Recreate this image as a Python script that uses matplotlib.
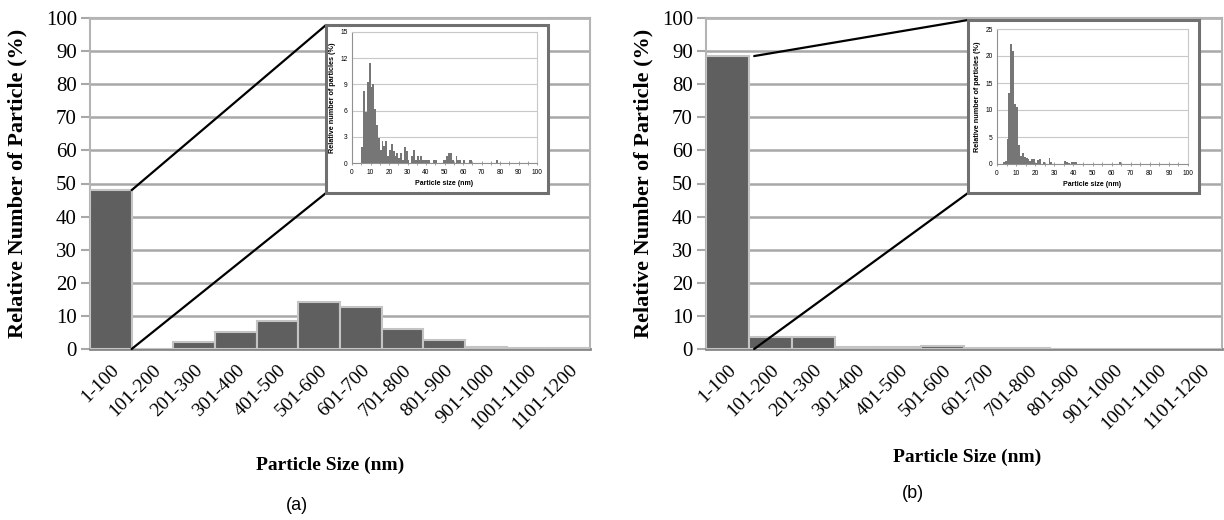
import matplotlib
matplotlib.use("Agg")
import matplotlib.pyplot as plt
from matplotlib.patches import Rectangle, ConnectionPatch
import numpy as np

# main histogram data (percent per size range)
size_ranges = ['1-100', '101-200', '201-300', '301-400', '401-500', '501-600',
               '601-700', '701-800', '801-900', '901-1000', '1001-1100', '1101-1200']
pct_a = [48.0, 0.0, 2.0, 5.2, 8.6, 14.3, 12.7, 6.0, 2.6, 0.5, 0.2, 0.2]
pct_b = [88.5, 3.5, 3.5, 0.7, 0.7, 1.0, 0.4, 0.4, 0.1, 0.1, 0.1, 0.1]

# inset histograms, 1 nm bins (only non-empty bins)
inset_a_nm = [5, 6, 7, 8, 9, 10, 11, 12, 13, 14, 15, 16, 17, 18, 19, 20, 21, 22, 23,
              24, 25, 26, 27, 28, 29, 30, 32, 33, 34, 35, 36, 37, 38, 39, 40, 41,
              44, 45, 49, 50, 51, 52, 53, 54, 56, 57, 58, 60, 63, 64, 78]
inset_a_pct = [1.8, 8.2, 5.8, 9.3, 11.5, 8.7, 9.0, 6.2, 4.3, 2.9, 1.5, 2.5, 2.0, 2.5,
               0.8, 1.5, 2.2, 1.4, 0.8, 1.1, 0.6, 1.1, 0.3, 1.8, 1.4, 0.4, 0.8, 1.5,
               0.4, 0.8, 0.4, 0.8, 0.4, 0.4, 0.4, 0.4, 0.4, 0.4, 0.4, 0.4, 0.8, 1.1,
               1.1, 0.4, 0.8, 0.4, 0.4, 0.4, 0.4, 0.4, 0.4]
inset_b_nm = [3, 4, 5, 6, 7, 8, 9, 10, 11, 12, 13, 14, 15, 16, 17, 18, 19, 20, 21, 22,
              24, 27, 28, 35, 36, 37, 39, 40, 41, 64]
inset_b_pct = [0.3, 0.6, 4.7, 13.2, 22.3, 21.0, 11.1, 10.6, 3.6, 1.5, 2.1, 1.3, 1.2,
               0.9, 0.5, 0.9, 0.9, 0.2, 0.7, 0.9, 0.3, 1.2, 0.3, 0.6, 0.3, 0.2, 0.3,
               0.4, 0.3, 0.3]

W, H = 1224, 520
SERIF = ['Liberation Serif', 'DejaVu Serif']
SANS = ['Liberation Sans', 'DejaVu Sans']


def px(x0, y0, x1, y1):
    # pixel box (top-left origin) -> figure fraction rect
    return [x0 / W, 1 - y1 / H, (x1 - x0) / W, (y1 - y0) / H]


def main_panel(fig, rect, values):
    ax = fig.add_axes(rect)
    x = np.arange(len(size_ranges))
    ax.bar(x, values, width=1.0, color='#5f5f5f', edgecolor='#c4c4c4',
           linewidth=1.5, zorder=3)
    ax.set_xlim(-0.5, len(size_ranges) - 0.5)
    ax.set_ylim(0, 100)
    ax.set_yticks(range(0, 101, 10))
    ax.set_xticks(x)
    ax.set_xticklabels(size_ranges, rotation=45, ha='right',
                       rotation_mode='anchor', family=SERIF, fontsize=14)
    for lab in ax.get_yticklabels():
        lab.set_family(SERIF)
        lab.set_fontsize(15)
    ax.yaxis.grid(True, color='#a8a8a8', linewidth=1.8, zorder=0)
    ax.tick_params(axis='y', length=6.5, width=1.5, color='#a8a8a8', pad=3)
    ax.tick_params(axis='x', length=0, pad=9)
    for side in ['top', 'right', 'left']:
        ax.spines[side].set_color('#b4b4b4')
        ax.spines[side].set_linewidth(1.5)
    ax.spines['bottom'].set_color('#888888')
    ax.spines['bottom'].set_linewidth(2)
    return ax


def inset_panel(fig, box, rect, nm, pct, ymax, ystep):
    fig.patches.append(Rectangle((box[0], box[1]), box[2], box[3],
                                 transform=fig.transFigure, facecolor='white',
                                 edgecolor='#707070', linewidth=2.2, zorder=5))
    ax = fig.add_axes(rect, zorder=6)
    ax.set_facecolor('white')
    ax.bar(nm, pct, width=1.0, align='edge', color='#767676', linewidth=0, zorder=3)
    ax.set_xlim(0, 100)
    ax.set_ylim(0, ymax)
    ax.set_xticks(range(0, 101, 10))
    ax.set_xticks(range(0, 101, 5), minor=True)
    ax.set_yticks(np.arange(0, ymax + 0.1, ystep))
    ax.yaxis.grid(True, color='#c8c8c8', linewidth=0.8, zorder=0)
    ax.tick_params(axis='y', length=0, pad=3, labelsize=4.8)
    ax.tick_params(axis='x', which='both', direction='inout', length=3,
                   width=0.6, color='#909090', labelsize=4.8, pad=3)
    for lab in ax.get_xticklabels() + ax.get_yticklabels():
        lab.set_family(SANS)
    for side in ['top', 'right']:
        ax.spines[side].set_color('#c8c8c8')
        ax.spines[side].set_linewidth(0.8)
    ax.spines['left'].set_color('#909090')
    ax.spines['bottom'].set_color('#909090')
    ax.set_ylabel('Relative number of particles (%)', fontsize=5.2,
                  fontweight='bold', family=SANS, labelpad=3)
    ax.set_xlabel('Particle size (nm)', fontsize=5, fontweight='bold',
                  family=SANS, labelpad=3)
    return ax


fig = plt.figure(figsize=(W / 100, H / 100), dpi=100)

ax_a = main_panel(fig, px(90, 18, 590, 349), pct_a)
ax_b = main_panel(fig, px(706, 18, 1222, 349), pct_b)

box_a = px(326, 25, 548, 193)
box_b = px(968, 20, 1199, 193)
inset_panel(fig, box_a, px(352, 32, 537, 163), inset_a_nm, inset_a_pct, 15, 3)
inset_panel(fig, box_b, px(997, 29, 1188, 164), inset_b_nm, inset_b_pct, 25, 5)

# zoom lines from first bar to inset box corners
for ax, box, x0, top in [(ax_a, box_a, 0.5, pct_a[0]), (ax_b, box_b, 0.62, pct_b[0])]:
    for yA, yB in [(top, box[1] + box[3]), (0, box[1])]:
        con = ConnectionPatch(xyA=(x0, yA), coordsA=ax.transData,
                              xyB=(box[0], yB), coordsB=fig.transFigure,
                              color='black', linewidth=1.6, zorder=4)
        fig.add_artist(con)

for xc, xl_y, pl_x, pl_y, ylx, tag in [(330, 465, 297, 505, 17, '(a)'),
                                       (967, 457, 913, 494, 643, '(b)')]:
    fig.text(xc / W, 1 - xl_y / H, 'Particle Size (nm)', ha='center', va='center',
             family=SERIF, fontweight='bold', fontsize=14)
    fig.text(pl_x / W, 1 - pl_y / H, tag, ha='center', va='center',
             family=SANS, fontsize=13)
    fig.text(ylx / W, 1 - 183 / H, 'Relative Number of Particle (%)', rotation=90,
             ha='center', va='center', family=SERIF, fontweight='bold', fontsize=16)

fig.savefig('out.png', dpi=100)
